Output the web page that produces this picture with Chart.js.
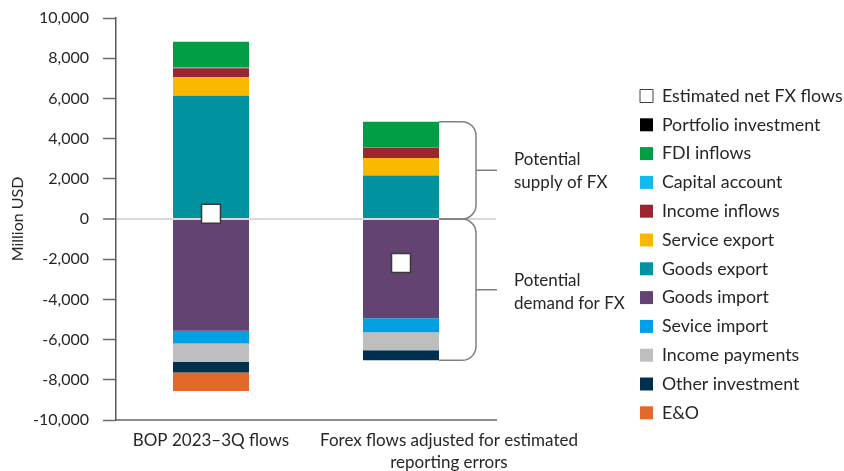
<!DOCTYPE html>
<html>
<head>
<meta charset="utf-8">
<script src="https://cdn.jsdelivr.net/npm/chart.js@4/dist/chart.umd.min.js"></script>
<style>
  html, body { margin: 0; padding: 0; background: #ffffff; }
  #wrap { width: 844px; height: 471px; }
</style>
</head>
<body>
<div id="wrap"><canvas id="c" width="844" height="471"></canvas></div>
<script>
// Categories (the second label is drawn over two lines)
const categories = ['BOP 2023–3Q flows', 'Forex flows adjusted for estimated reporting errors'];
const categoryLines = [['BOP 2023–3Q flows'], ['Forex flows adjusted for estimated', 'reporting errors']];

// Inflows (million USD), stacked upward from zero
const goodsExport = [6130, 2170];
const serviceExport = [920, 860];
const incomeInflows = [450, 500];
const capitalAccount = [50, 50];
const fdiInflows = [1270, 1260];
const portfolioInvestment = [0, 0];

// Outflows (million USD), stacked downward from zero
const goodsImport = [-5560, -4940];
const serviceImport = [-640, -700];
const incomePayments = [-910, -890];
const otherInvestment = [-530, -500];
const errorsOmissions = [-920, 0];

// Net FX flows marker
const netFxFlows = [260, -2190];

// Value axis
const yMin = -10000;
const yMax = 10000;
const yStep = 2000;

// Order of entries in the legend
const legendOrder = [
  'Estimated net FX flows', 'Portfolio investment', 'FDI inflows', 'Capital account',
  'Income inflows', 'Service export', 'Goods export', 'Goods import', 'Sevice import',
  'Income payments', 'Other investment', 'E&O'
];

const FONT = 'Lato, "Noto Sans", sans-serif';
const TEXT = '#262626';

function barSet(label, data, color) {
  return {
    type: 'bar', label, data, backgroundColor: color, borderWidth: 0, stack: 'flows',
    barPercentage: 0.4, categoryPercentage: 1.0
  };
}

const datasets = [
  {
    type: 'line', label: 'Estimated net FX flows', data: netFxFlows, stack: 'net', order: -1,
    showLine: false, backgroundColor: '#ffffff', borderColor: '#404040', borderWidth: 1,
    pointStyle: 'rect', pointRadius: 13.4, pointHoverRadius: 13.4,
    pointBackgroundColor: '#ffffff', pointBorderColor: '#3a3a3a', pointBorderWidth: 1.5
  },
  barSet('Goods export', goodsExport, '#00929f'),
  barSet('Service export', serviceExport, '#fbb800'),
  barSet('Income inflows', incomeInflows, '#9b2530'),
  barSet('Capital account', capitalAccount, '#14b9ee'),
  barSet('FDI inflows', fdiInflows, '#009d45'),
  barSet('Portfolio investment', portfolioInvestment, '#000000'),
  barSet('Goods import', goodsImport, '#624371'),
  barSet('Sevice import', serviceImport, '#00a0e3'),
  barSet('Income payments', incomePayments, '#bebebe'),
  barSet('Other investment', otherInvestment, '#00304e'),
  barSet('E&O', errorsOmissions, '#e3692b')
];

const positiveSeries = [goodsExport, serviceExport, incomeInflows, capitalAccount, fdiInflows, portfolioInvestment];
const negativeSeries = [goodsImport, serviceImport, incomePayments, otherInvestment, errorsOmissions];
const sumAt = (series, i) => series.reduce((s, arr) => s + arr[i], 0);

// Category labels under the axis, second one shifted right
const categoryLabelShift = [0, 48];
const categoryLabels = {
  id: 'categoryLabels',
  afterDraw(chart) {
    const { ctx, scales: { x } } = chart;
    ctx.save();
    ctx.font = '17px ' + FONT;
    ctx.fillStyle = TEXT;
    ctx.textAlign = 'center';
    ctx.textBaseline = 'middle';
    categoryLines.forEach((lines, i) => {
      const cx = x.getPixelForValue(i) + categoryLabelShift[i];
      lines.forEach((t, k) => ctx.fillText(t, cx, x.top + 21 + k * 22));
    });
    ctx.restore();
  }
};

// Braces marking potential supply and demand of FX on the second bar
const fxBraces = {
  id: 'fxBraces',
  afterDatasetsDraw(chart) {
    const { ctx, scales: { y } } = chart;
    const bar = chart.getDatasetMeta(1).data[1];
    const x0 = bar.x + bar.width / 2;
    const xv = x0 + 37;
    const r = 14;
    const zero = y.getPixelForValue(0);
    const top = y.getPixelForValue(sumAt(positiveSeries, 1));
    const bottom = y.getPixelForValue(sumAt(negativeSeries, 1));

    function brace(y1, y2) {
      const mid = (y1 + y2) / 2;
      ctx.beginPath();
      ctx.moveTo(x0, y1);
      ctx.lineTo(xv - r, y1);
      ctx.arcTo(xv, y1, xv, y1 + r, r);
      ctx.lineTo(xv, y2 - r);
      ctx.arcTo(xv, y2, xv - r, y2, r);
      ctx.lineTo(x0, y2);
      ctx.moveTo(xv, mid);
      ctx.lineTo(xv + 21, mid);
      ctx.stroke();
      return mid;
    }

    ctx.save();
    ctx.strokeStyle = '#7f7f7f';
    ctx.lineWidth = 1.5;
    const m1 = brace(top, zero);
    const m2 = brace(zero, bottom);
    ctx.font = '17px ' + FONT;
    ctx.fillStyle = TEXT;
    ctx.textAlign = 'left';
    ctx.textBaseline = 'middle';
    const tx = xv + 38;
    ctx.fillText('Potential', tx, m1 - 10.5);
    ctx.fillText('supply of FX', tx, m1 + 12);
    ctx.fillText('Potential', tx, m2 - 9);
    ctx.fillText('demand for FX', tx, m2 + 14);
    ctx.restore();
  }
};

new Chart(document.getElementById('c'), {
  data: { labels: categories, datasets },
  options: {
    responsive: false,
    animation: false,
    events: [],
    layout: { padding: { top: 18, right: 0, bottom: 0, left: 0 } },
    plugins: {
      tooltip: { enabled: false },
      legend: {
        position: 'right',
        align: 'start',
        maxWidth: 215,
        title: { display: true, text: '', font: { size: 12 }, padding: { top: 43.7, bottom: 0 } },
        labels: {
          boxWidth: 13, boxHeight: 13, padding: 11,
          color: TEXT, font: { family: FONT, size: 17.8 },
          sort: (a, b) => legendOrder.indexOf(a.text) - legendOrder.indexOf(b.text)
        }
      }
    },
    scales: {
      x: {
        stacked: true,
        grid: { display: false },
        border: { display: true, color: '#8c8c8c', width: 2 },
        ticks: { display: false },
        afterFit(s) { s.height = 51; }
      },
      y: {
        stacked: true,
        min: yMin, max: yMax,
        ticks: {
          stepSize: yStep, padding: 14, color: TEXT,
          font: { family: FONT, size: 16 },
          callback: v => v.toLocaleString('en-US')
        },
        grid: {
          drawTicks: true, tickLength: 13, tickColor: '#6b6b6b', tickWidth: 1.5,
          color: c => (c.tick && c.tick.value === 0 ? '#d9d9d9' : 'rgba(0,0,0,0)'),
          lineWidth: c => (c.tick && c.tick.value === 0 ? 2 : 1)
        },
        border: { display: true, color: '#595959', width: 1.5 },
        title: {
          display: true, text: 'Million USD', color: TEXT,
          font: { family: FONT, size: 16 }, padding: { top: 8, bottom: 0 }
        },
        afterFit(s) {
          s.width = 116;
          s.paddingTop = 0;
          s.paddingBottom = 0;
        }
      },
      gap: {
        type: 'linear',
        position: 'right',
        display: true,
        grid: { display: false },
        border: { display: false },
        ticks: { display: false },
        afterFit(s) {
          const lw = s.chart.legend ? s.chart.legend.width : 215;
          s.width = Math.max(0, 844 - 496 - lw);
        }
      }
    }
  },
  plugins: [categoryLabels, fxBraces]
});
</script>
</body>
</html>
